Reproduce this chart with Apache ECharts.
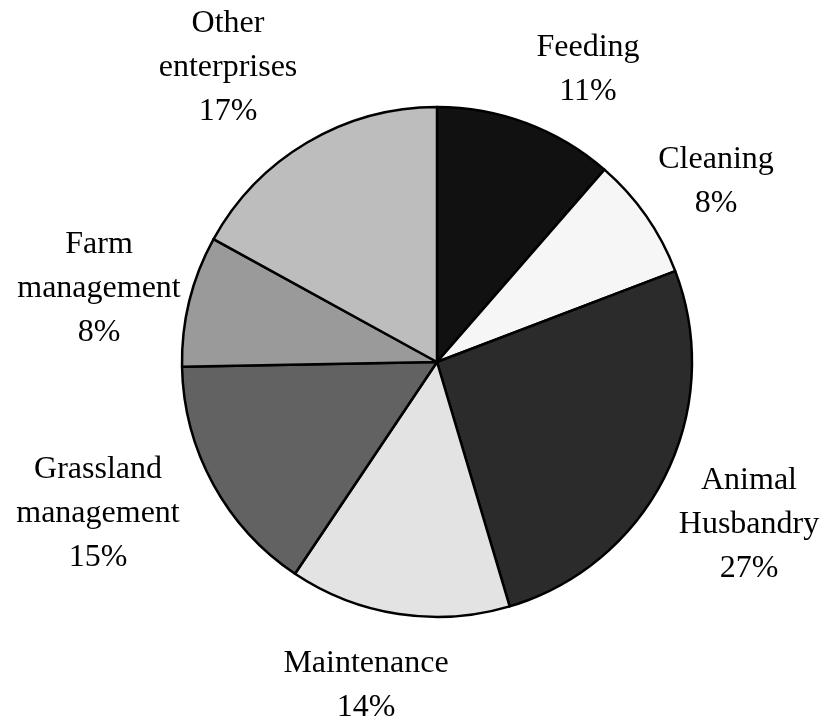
<!DOCTYPE html>
<html>
<head>
<meta charset="utf-8">
<script src="https://cdn.jsdelivr.net/npm/echarts@6/dist/echarts.min.js"></script>
<style>
html,body{margin:0;padding:0;background:#fff;}
#chart{width:826px;height:719px;}
</style>
</head>
<body>
<div id="chart"></div>
<script>
const categories = ['Feeding', 'Cleaning', 'Animal\nHusbandry', 'Maintenance', 'Grassland\nmanagement', 'Farm\nmanagement', 'Other\nenterprises'];
const shares = [11.4, 7.8, 26.2, 14.0, 15.3, 8.3, 17.0];
const percentLabels = ['11%', '8%', '27%', '14%', '15%', '8%', '17%'];
const sliceColors = ['#111111', '#f6f6f6', '#2b2b2b', '#e3e3e3', '#626262', '#9a9a9a', '#bdbdbd'];
const labelAnchors = [[588, 70], [716, 182], [749, 525], [366, 686], [98, 514], [99, 289], [228, 68]];

const chart = echarts.init(document.getElementById('chart'));
chart.setOption({
  animation: false,
  backgroundColor: '#ffffff',
  series: [{
    type: 'pie',
    center: [437, 362],
    radius: 255,
    startAngle: 90,
    clockwise: true,
    data: categories.map((c, i) => ({
      name: c,
      value: shares[i],
      itemStyle: { color: sliceColors[i] }
    })),
    itemStyle: { borderColor: '#000000', borderWidth: 2.5 },
    label: {
      show: true,
      position: 'outside',
      formatter: p => p.name + '\n' + percentLabels[p.dataIndex],
      fontFamily: 'Liberation Serif',
      fontSize: 32,
      lineHeight: 44,
      color: '#000000',
      align: 'center',
      overflow: 'none'
    },
    labelLine: { show: false },
    labelLayout: p => ({
      x: labelAnchors[p.dataIndex][0],
      y: labelAnchors[p.dataIndex][1],
      align: 'center',
      verticalAlign: 'middle'
    }),
    emphasis: { disabled: true }
  }]
});
</script>
</body>
</html>
